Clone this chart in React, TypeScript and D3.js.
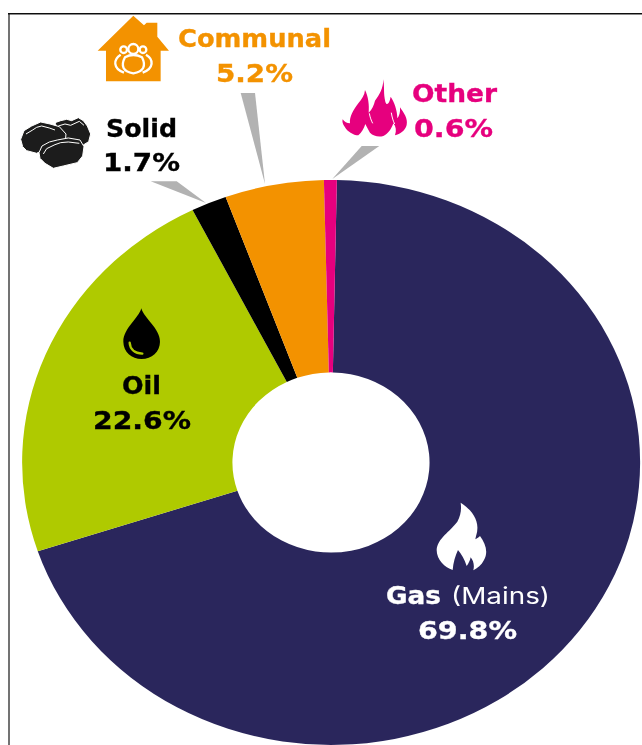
import React from "react";
import * as d3 from "d3";

const categories = ["Gas (Mains)", "Oil", "Solid", "Communal", "Other"];
const percentLabels = ["69.8%", "22.6%", "1.7%", "5.2%", "0.6%"];
// Share of the ring each slice actually covers in the picture
const arcShares = [69.6, 22.7, 1.86, 5.17, 0.67];
const colors = ["#2a275c", "#afca05", "#000000", "#f39200", "#e6007e"];

const cx = 331, cy = 462.5, rx = 309, ry = 282.5, holeFraction = 0.319;
const startAngle = 0.0194;
const bold = "'DejaVu Sans', sans-serif";
const light = "Inter, 'Noto Sans', sans-serif";

const HOUSE = "M400 47 L432 76 L440 68 L472 68 L472 110 L507 152 L482 152 L482 244 L318 244 L318 152 L293 152 Z";
const GAS_FLAME = "M272 38 C300 55 325 85 322 118 C322 128 318 136 316 148 C322 145 326 142 330 138 C346 160 356 185 342 210 C335 225 322 235 310 241 C314 225 310 212 302 202 C300 212 296 220 290 228 C284 208 274 192 264 180 C256 197 250 218 248 240 C225 232 200 210 200 180 C202 145 240 125 262 95 C272 78 275 58 272 38 Z";
const OTHER_FLAME = "M190 58 C194 85 190 100 196 125 C200 138 208 132 212 110 C222 125 232 150 232 175 C238 168 241 158 240 142 C252 160 264 175 260 195 C256 212 240 222 225 226 C230 212 228 200 220 190 C215 205 205 222 190 228 C175 232 160 228 150 218 C144 208 140 200 136 192 C132 205 125 218 115 226 C100 225 82 215 74 200 C68 192 66 185 68 178 C74 186 80 190 90 190 C88 170 100 150 115 130 C125 118 134 105 135 90 C145 110 148 135 146 158 C156 150 162 135 165 122 C178 105 190 85 190 58 Z";
const DROP = "M184 55 C192 85 240 115 240 155 C240 185 215 207 185 207 C155 207 130 185 130 155 C130 115 176 85 184 55 Z";
const COAL_A = "M165 368 L182 362 L200 358 L215 362 L235 353 L250 362 L262 378 L272 402 L266 425 L250 435 L190 430 Z";
const COAL_B = "M62 418 L72 392 L95 378 L122 366 L150 372 L178 380 L198 402 L196 425 L150 440 L110 460 L80 452 L68 440 Z";
const COAL_C = "M117 458 L126 438 L148 426 L172 420 L205 414 L240 420 L252 440 L248 468 L232 488 L190 498 L160 505 L135 490 L120 475 Z";

function Icons() {
  return (
    <g>
      <g transform="scale(0.3333)">
        <path d={HOUSE} fill="#f39200" />
        <g fill="none" stroke="#fff" strokeWidth={7}>
          <circle cx={400} cy={147} r={15} />
          <circle cx={371} cy={149} r={10} />
          <circle cx={429} cy={149} r={10} />
          <path d="M375 172 Q400 158 426 172 Q446 212 400 220 Q354 212 375 172 Z" />
          <path d="M362 164 C340 178 338 205 372 218 M438 164 C462 178 462 205 428 218" />
        </g>
        <g stroke="#fff" strokeWidth={3} fill="#1d1d1b">
          <path d={COAL_A} />
          <path d={COAL_B} />
          <path d={COAL_C} />
        </g>
        <g fill="none" stroke="#fff" strokeWidth={3}>
          <path d="M175 378 L195 372 L212 376 L238 364 L252 376" />
          <path d="M78 402 L98 390 L110 382 L125 378 L148 384 L165 390" />
          <path d="M130 462 L140 446 L165 434 L182 428 L205 426 L238 430" />
        </g>
      </g>
      <path d={GAS_FLAME} fill="#fff" transform="translate(370,490) scale(0.3333)" />
      <g transform="translate(320,60) scale(0.3333)">
        <path d={OTHER_FLAME} fill="#e6007e" />
        <g fill="none" stroke="#fff" strokeWidth={3}>
          <path d="M148 160 C150 172 154 182 158 190" />
          <path d="M214 158 C216 172 220 184 224 192" />
        </g>
      </g>
      <g transform="translate(80,290) scale(0.3333)">
        <path d={DROP} fill="#000" />
        <path d="M149 158 C150 178 165 190 187 191" fill="none" stroke="#afca05" strokeWidth={7} strokeLinecap="round" />
      </g>
    </g>
  );
}

export default function App() {
  const pie = d3.pie<number>().sort(null).startAngle(startAngle).endAngle(startAngle + Math.PI * 2);
  const arcs = pie(arcShares);
  const arc = d3.arc<d3.PieArcDatum<number>>().innerRadius(holeFraction).outerRadius(1);
  const T = (p: { x: number; w: number; y: number; t: string; fill: string; size?: number; fam?: string; weight?: number; sw?: number }) => (
    <text
      x={p.x}
      y={p.y}
      textLength={p.w}
      lengthAdjust="spacingAndGlyphs"
      fill={p.fill}
      stroke={p.fill}
      strokeWidth={p.sw ?? 0.35}
      fontSize={p.size ?? 25}
      fontFamily={p.fam ?? bold}
      fontWeight={p.weight ?? 700}
    >
      {p.t}
    </text>
  );
  return (
    <svg width={642} height={745} style={{ position: "absolute", left: 0, top: 0, background: "#fff" }}>
      <defs>
        <filter id="soft" filterUnits="userSpaceOnUse" x={0} y={0} width={642} height={745}>
          <feGaussianBlur stdDeviation={0.45} />
        </filter>
      </defs>
      <g filter="url(#soft)">
        <path d="M9 745 V13" fill="none" stroke="#444" strokeWidth={1.5} />
        <path d="M8 13.7 H642" fill="none" stroke="#111" strokeWidth={1.6} />
        <path d="M240.7 93 L255 93 L265 184 Z" fill="#b2b2b2" />
        <path d="M150.7 181.3 L176.7 181.3 L206 203 Z" fill="#b2b2b2" />
        <path d="M361.7 146 L379.3 146 L332.3 179 Z" fill="#b2b2b2" />
        <g transform={`translate(${cx},${cy}) scale(${rx},${ry})`}>
          {arcs.map((a, i) => (
            <path key={categories[i]} d={arc(a) as string} fill={colors[i]} />
          ))}
        </g>
        <Icons />
        <T x={178} w={153} y={47} t={categories[3]} fill="#f39200" />
        <T x={216} w={77} y={81.5} t={percentLabels[3]} fill="#f39200" />
        <T x={106} w={71} y={136.5} t={categories[2]} fill="#000" />
        <T x={103} w={77} y={170.5} t={percentLabels[2]} fill="#000" />
        <T x={122} w={39} y={394} t={categories[1]} fill="#000" />
        <T x={93} w={98} y={429} t={percentLabels[1]} fill="#000" />
        <T x={412} w={85} y={101.5} t={categories[4]} fill="#e6007e" />
        <T x={414} w={79} y={137} t={percentLabels[4]} fill="#e6007e" />
        <T x={386} w={55} y={604} t="Gas" fill="#fff" />
        <T x={451} w={99} y={604} t="(Mains)" fill="#fff" fam={light} weight={400} size={23} sw={0} />
        <T x={418} w={99} y={639} t={percentLabels[0]} fill="#fff" />
      </g>
    </svg>
  );
}
